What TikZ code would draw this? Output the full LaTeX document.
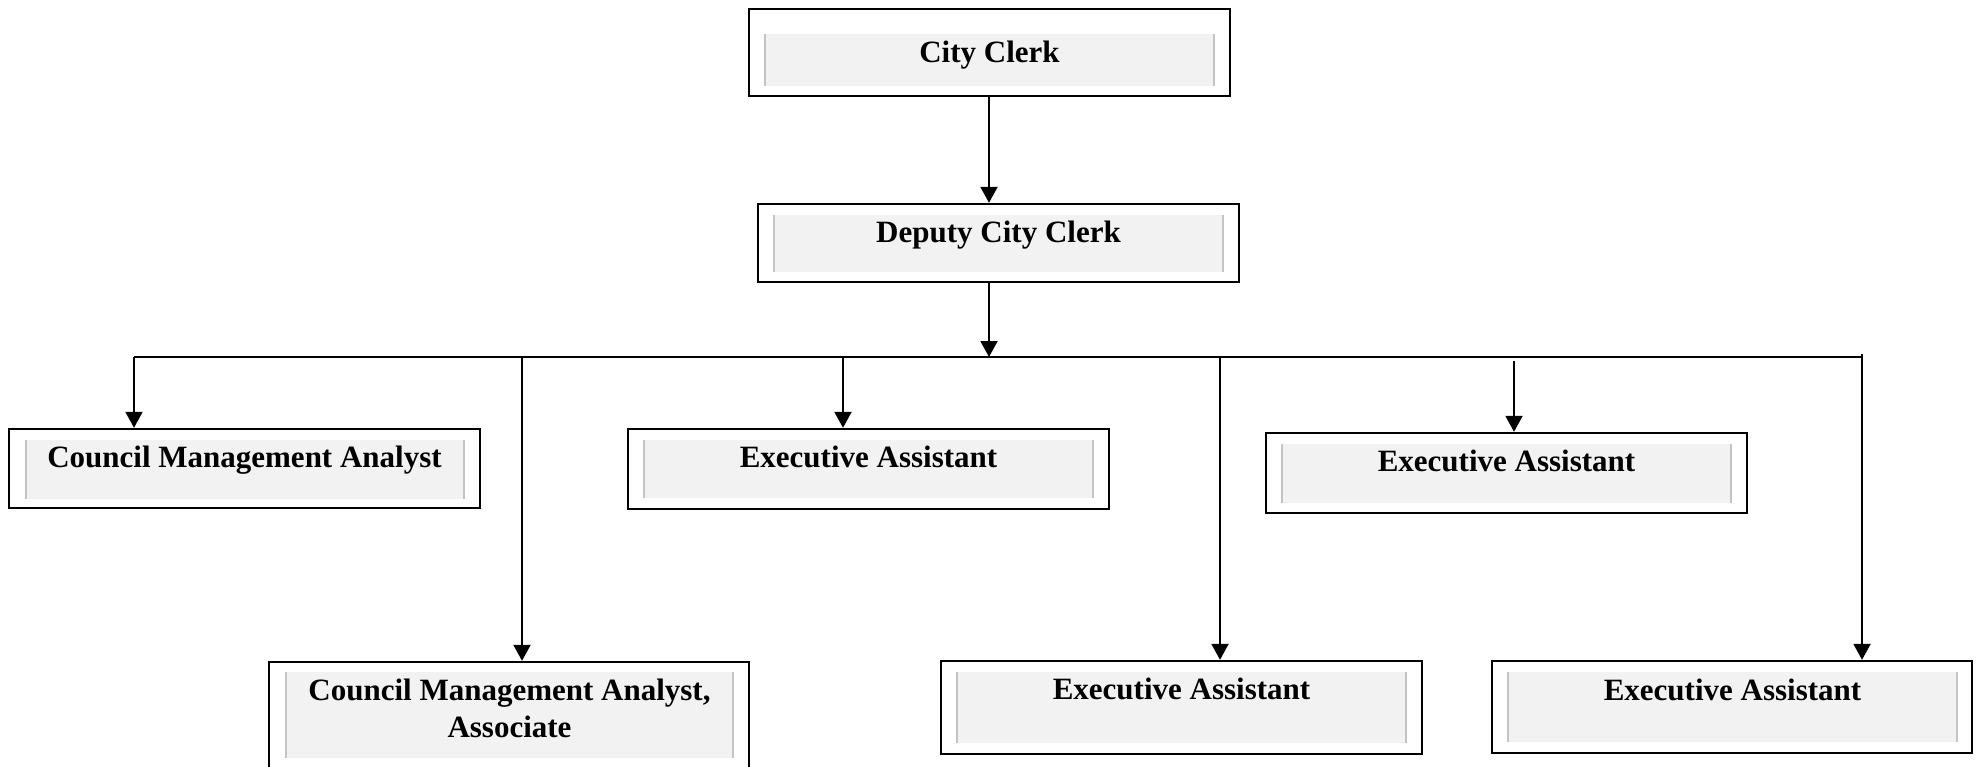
\documentclass[tikz,border=0pt]{standalone}
\usepackage{fontspec}
\setmainfont{Liberation Serif}
\usetikzlibrary{arrows.meta}
\definecolor{panelgray}{HTML}{F2F2F2}
\definecolor{rulegray}{HTML}{C4C4C4}
\begin{document}
\begin{tikzpicture}[x=1pt,y=-1pt,
  outerbox/.style={draw=black,line width=2.4pt,fill=white,rectangle,inner sep=0pt},
  panel/.style={fill=panelgray},
  panelrule/.style={draw=rulegray,line width=1.6pt},
  title/.style={anchor=base,inner sep=0pt,align=center,
    font=\fontsize{31}{37}\selectfont\bfseries},
  link/.style={draw=black,line width=2pt},
  arrow/.style={link,-{Triangle[length=16pt,width=17pt]}}]
\useasboundingbox (0,0) rectangle (1981,767);

% City Clerk
\node[outerbox,minimum width=481pt,minimum height=87pt] (cc) at (989.5,52.5) {};
\fill[panel] (765,34) rectangle (1214,86);
\draw[panelrule] (765,34) -- (765,86) (1214,34) -- (1214,86);
\node[title] (cc-t) at (989.5,63) {City Clerk};

% Deputy City Clerk
\node[outerbox,minimum width=481pt,minimum height=78pt] (dcc) at (998.5,243) {};
\fill[panel] (774,215) rectangle (1223,272);
\draw[panelrule] (774,215) -- (774,272) (1223,215) -- (1223,272);
\node[title] (dcc-t) at (998.5,243) {Deputy City Clerk};

% Council Management Analyst
\node[outerbox,minimum width=471pt,minimum height=79pt] (cma) at (244.5,468.5) {};
\fill[panel] (26,440) rectangle (464,499);
\draw[panelrule] (26,440) -- (26,499) (464,440) -- (464,499);
\node[title] (cma-t) at (244.5,467) {Council Management Analyst};

% Executive Assistant (upper middle)
\node[outerbox,minimum width=481pt,minimum height=80pt] (ea1) at (868.5,469) {};
\fill[panel] (644,440) rectangle (1093,498);
\draw[panelrule] (644,440) -- (644,498) (1093,440) -- (1093,498);
\node[title] (ea1-t) at (868.5,467) {Executive Assistant};

% Executive Assistant (upper right)
\node[outerbox,minimum width=481pt,minimum height=80pt] (ea2) at (1506.5,473) {};
\fill[panel] (1282,444) rectangle (1731,503);
\draw[panelrule] (1282,444) -- (1282,503) (1731,444) -- (1731,503);
\node[title] (ea2-t) at (1506.5,471) {Executive Assistant};

% Council Management Analyst, Associate (base anchor sits on the last line)
\node[outerbox,minimum width=480pt,minimum height=113pt] (cmaa) at (509,718.5) {};
\fill[panel] (286,672) rectangle (733,758);
\draw[panelrule] (286,672) -- (286,758) (733,672) -- (733,758);
\node[title] (cmaa-t) at (509.5,737) {Council Management Analyst,\\Associate};

% Executive Assistant (lower middle)
\node[outerbox,minimum width=481pt,minimum height=93pt] (ea3) at (1181.5,707.5) {};
\fill[panel] (957,672) rectangle (1406,743);
\draw[panelrule] (957,672) -- (957,743) (1406,672) -- (1406,743);
\node[title] (ea3-t) at (1181.5,699) {Executive Assistant};

% Executive Assistant (lower right)
\node[outerbox,minimum width=480pt,minimum height=92pt] (ea5) at (1732,707) {};
\fill[panel] (1508,672) rectangle (1957,742);
\draw[panelrule] (1508,672) -- (1508,742) (1957,672) -- (1957,742);
\node[title] (ea5-t) at (1732.5,700) {Executive Assistant};

% reporting lines
\coordinate (spine) at (989,0);
\coordinate (busL) at (134,357);
\coordinate (busR) at (1863,357);
\coordinate (b1) at (134,357);
\coordinate (b2) at (522,357);
\coordinate (b3) at (843,357);
\coordinate (b4) at (1220,357);
\coordinate (b5) at (1514,361);
\coordinate (b6) at (1862,354);

\draw[arrow] (spine |- cc.south) -- (spine |- dcc.north);
\draw[arrow] (spine |- dcc.south) -- (spine |- busL);
\draw[link] (busL) -- (busR);
\draw[arrow] (b1) -- (b1 |- cma.north);
\draw[arrow] (b2) -- (b2 |- cmaa.north);
\draw[arrow] (b3) -- (b3 |- ea1.north);
\draw[arrow] (b4) -- (b4 |- ea3.north);
\draw[arrow] (b5) -- (b5 |- ea2.north);
\draw[arrow] (b6) -- (b6 |- ea5.north);
\end{tikzpicture}
\end{document}
